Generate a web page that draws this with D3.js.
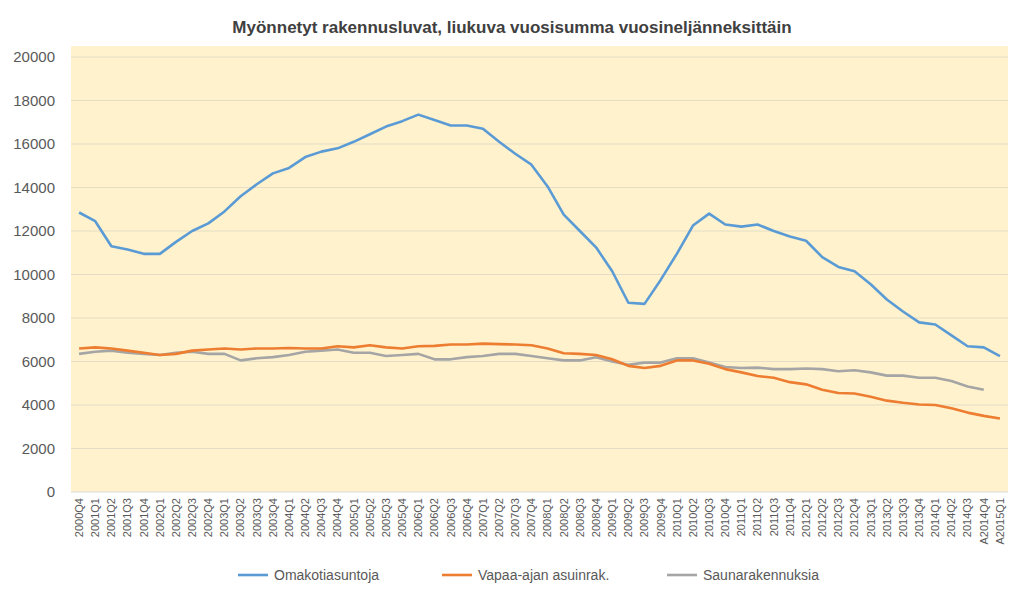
<!DOCTYPE html>
<html>
<head>
<meta charset="utf-8">
<script src="https://cdn.jsdelivr.net/npm/d3@7"></script>
<style>
  body { margin: 0; background: #fff; font-family: "Liberation Sans", Arial, sans-serif; }
  .tick text { fill: #595959; }
</style>
</head>
<body>
<div id="chart"></div>
<script>
const quarters = ["2000Q4"];
for (let y = 2001; y <= 2014; y++) for (let q = 1; q <= 4; q++) quarters.push(y + "Q" + q);
quarters.pop();
quarters.push("A2014Q4", "A2015Q1");

const omakoti = [12850, 12450, 11300, 11150, 10950, 10950, 11500, 12000, 12350, 12900,
  13600, 14150, 14650, 14900, 15400, 15650, 15800, 16100, 16450, 16800,
  17050, 17350, 17100, 16850, 16850, 16700, 16100, 15550, 15050, 14050,
  12750, 12000, 11250, 10150, 8700, 8650, 9750, 10950, 12250, 12800,
  12300, 12200, 12300, 12000, 11750, 11550, 10800, 10350, 10150, 9550,
  8850, 8300, 7800, 7700, 7200, 6700, 6650, 6250];
const vapaa = [6600, 6650, 6600, 6500, 6400, 6300, 6350, 6500, 6550, 6600,
  6550, 6600, 6600, 6620, 6600, 6600, 6700, 6650, 6750, 6650,
  6600, 6700, 6720, 6780, 6780, 6820, 6800, 6780, 6750, 6600,
  6380, 6350, 6300, 6100, 5800, 5700, 5800, 6050, 6050, 5900,
  5650, 5500, 5330, 5250, 5050, 4950, 4700, 4550, 4530, 4380,
  4200, 4100, 4020, 4000, 3850, 3650, 3500, 3380];
const sauna = [6350, 6450, 6500, 6400, 6350, 6300, 6400, 6450, 6350, 6350,
  6050, 6150, 6200, 6300, 6450, 6500, 6550, 6400, 6400, 6250,
  6300, 6350, 6100, 6100, 6200, 6250, 6350, 6350, 6250, 6150,
  6050, 6050, 6200, 6000, 5850, 5950, 5950, 6150, 6150, 5950,
  5750, 5700, 5720, 5650, 5650, 5680, 5650, 5550, 5600, 5500,
  5350, 5350, 5250, 5250, 5100, 4850, 4700, null];

const seriesNames = ["Omakotiasuntoja", "Vapaa-ajan asuinrak.", "Saunarakennuksia"];
const seriesColors = ["#5B9BD5", "#ED7D31", "#A5A5A5"];
const seriesValues = [omakoti, vapaa, sauna];
const yTicks = d3.range(0, 20001, 2000);

const width = 1023, height = 599,
      margin = { top: 57, right: 15, bottom: 107, left: 71 };

const svg = d3.select("#chart").append("svg")
  .attr("width", width).attr("height", height);

svg.append("text")
  .attr("x", 512).attr("y", 33)
  .attr("text-anchor", "middle")
  .style("font-size", "17px").style("font-weight", "bold").style("fill", "#404040")
  .text("Myönnetyt rakennusluvat, liukuva vuosisumma vuosineljänneksittäin");

const x = d3.scaleBand().domain(quarters).range([margin.left, width - margin.right]);
const y = d3.scaleLinear().domain([0, 20000]).range([height - margin.bottom, margin.top]);

svg.append("rect")
  .attr("x", margin.left).attr("y", 46)
  .attr("width", width - margin.right - margin.left)
  .attr("height", y(0) - 46)
  .attr("fill", "#FFF2CC");

svg.append("g").selectAll("line").data(yTicks.slice(1)).join("line")
  .attr("x1", margin.left).attr("x2", width - margin.right)
  .attr("y1", d => y(d)).attr("y2", d => y(d))
  .attr("stroke", "#E3DCC6").attr("stroke-width", 1);

svg.append("line")
  .attr("x1", margin.left).attr("x2", width - margin.right)
  .attr("y1", y(0)).attr("y2", y(0))
  .attr("stroke", "#D9D9D9");

const yAxis = svg.append("g")
  .attr("transform", `translate(${margin.left},0)`)
  .call(d3.axisLeft(y).tickValues(yTicks).tickFormat(d3.format("d")).tickSize(0).tickPadding(16));
yAxis.select(".domain").remove();
yAxis.selectAll("text").style("font-size", "15px").style("font-family", "Liberation Sans, Arial, sans-serif");

const xAxis = svg.append("g")
  .attr("transform", `translate(0,${y(0)})`)
  .call(d3.axisBottom(x).tickSize(0));
xAxis.select(".domain").remove();
xAxis.selectAll("text")
  .attr("transform", "rotate(-90)")
  .attr("text-anchor", "end")
  .attr("x", -6).attr("y", 0).attr("dy", "0.35em")
  .style("font-size", "11px").style("font-family", "Liberation Sans, Arial, sans-serif");

const line = d3.line()
  .defined(d => d != null)
  .x((d, i) => x(quarters[i]) + x.bandwidth() / 2)
  .y(d => y(d));

[2, 1, 0].forEach(k => {
  svg.append("path")
    .datum(seriesValues[k])
    .attr("fill", "none")
    .attr("stroke", seriesColors[k])
    .attr("stroke-width", 2.6)
    .attr("stroke-linejoin", "round")
    .attr("d", line);
});

const legX = [238, 442, 667];
const leg = svg.append("g").selectAll("g").data(seriesNames).join("g")
  .attr("transform", (d, i) => `translate(${legX[i]},575)`);
leg.append("line").attr("x1", 0).attr("x2", 30)
  .attr("stroke", (d, i) => seriesColors[i]).attr("stroke-width", 2.6);
leg.append("text").attr("x", 36).attr("dy", "0.35em")
  .style("font-size", "14px").style("fill", "#595959")
  .text(d => d);
</script>
</body>
</html>
